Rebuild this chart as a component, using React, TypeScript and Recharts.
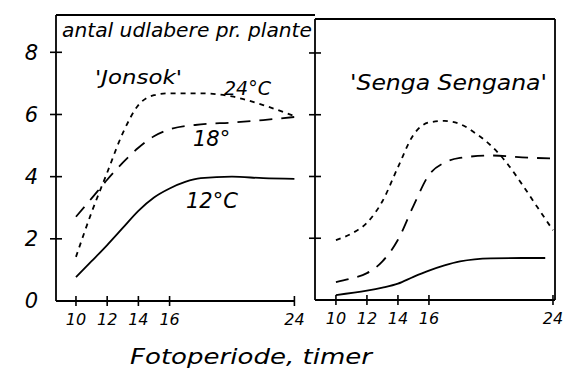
import React from "react";
import { LineChart, Line, XAxis, YAxis, ReferenceLine } from "recharts";

// Jonsok (left panel)
const jonsokHours24 = [10, 11, 12, 13, 14, 15, 16, 18, 20, 22, 24];
const jonsok24 = [1.42, 2.85, 4.13, 5.4, 6.3, 6.62, 6.68, 6.68, 6.58, 6.3, 5.95];
const jonsokHours18 = [10, 11, 12, 13, 14, 15, 16, 18, 20, 22, 24];
const jonsok18 = [2.71, 3.3, 3.9, 4.45, 4.93, 5.3, 5.52, 5.68, 5.74, 5.82, 5.92];
const jonsokHours12 = [10, 11, 12, 13, 14, 15, 16, 17, 18, 20, 22, 24];
const jonsok12 = [0.77, 1.28, 1.8, 2.35, 2.9, 3.33, 3.62, 3.83, 3.95, 4.0, 3.95, 3.93];

// Senga Sengana (right panel)
const sengaHours24 = [10, 11, 12, 13, 14, 15, 16, 17, 18, 19, 20, 21, 22, 23, 24];
const senga24 = [1.94, 2.15, 2.5, 3.2, 4.3, 5.35, 5.75, 5.8, 5.7, 5.4, 5.0, 4.45, 3.75, 3.0, 2.26];
const sengaHours18 = [10, 11, 12, 13, 14, 15, 16, 17, 18, 20, 22, 24];
const senga18 = [0.58, 0.7, 0.87, 1.25, 1.95, 3.05, 4.05, 4.45, 4.6, 4.68, 4.62, 4.58];
const sengaHours12 = [10, 12, 13, 14, 15, 16, 17, 18, 20, 22, 23.5];
const senga12 = [0.16, 0.3, 0.4, 0.53, 0.75, 0.95, 1.12, 1.25, 1.35, 1.36, 1.36];

const xTicks = [10, 12, 14, 16, 24];
const yTicks = [0, 2, 4, 6, 8];
const leftTempLabels = ["24°C", "18°", "12°C"];
const title = "antal udlabere pr. plante";
const cultivars = ["'Jonsok'", "'Senga Sengana'"];
const xTitle = "Fotoperiode, timer";

const toData = (hs: number[], vs: number[]) => hs.map((h, i) => ({ h, v: vs[i] }));

const FONT = "'DejaVu Sans', sans-serif";

const YTick = (props: any) => {
  const { x, y, payload, showLabel } = props;
  return (
    <g>
      {payload.value !== 0 && (
        <line x1={x - 6} x2={x + 6} y1={y} y2={y} stroke="#000" strokeWidth={1.6} />
      )}
      {showLabel && (
        <text x={x - 18} y={y} dy="0.35em" textAnchor="end" fontFamily={FONT} fontStyle="italic" fontSize={21} fill="#000">
          {payload.value}
        </text>
      )}
    </g>
  );
};

const XTick = (props: any) => {
  const { x, y, payload } = props;
  return (
    <g>
      <line x1={x} x2={x} y1={y - 5} y2={y + 5} stroke="#000" strokeWidth={1.6} />
      <text x={x} y={y + 18} dy="0.35em" textAnchor="middle" fontFamily={FONT} fontStyle="italic" fontSize={16} fill="#000">
        {payload.value}
      </text>
    </g>
  );
};

const LMIN = 8.72;
const LMAX = 25.32;
const LYMAX = 9.2;
const RMIN = 8.65;
const RMAX = 24.13;
const RYMAX = 9.1;

export default function App() {
  return (
    <div style={{ position: "absolute", left: 0, top: 0, width: 585, height: 373, background: "#fff" }}>
      <div style={{ position: "absolute", left: 0, top: 0 }}>
        <LineChart width={585} height={373} margin={{ top: 15, left: 0, right: 270, bottom: 32 }}>
          <XAxis type="number" dataKey="h" domain={[LMIN, LMAX]} ticks={xTicks} axisLine={false} tickLine={false}
            tickSize={0} tickMargin={0} height={40} tick={(p: any) => <XTick {...p} />} allowDataOverflow />
          <YAxis type="number" domain={[0, LYMAX]} ticks={yTicks} width={56} tickLine={false} tickSize={0} tickMargin={0}
            axisLine={{ stroke: "#000", strokeWidth: 1.8 }} tick={(p: any) => <YTick {...p} showLabel />} allowDataOverflow />
          <ReferenceLine segment={[{ x: LMIN, y: 0 }, { x: 24, y: 0 }]} stroke="#000" strokeWidth={1.8} ifOverflow="visible" />
          <ReferenceLine segment={[{ x: LMIN, y: LYMAX }, { x: LMAX, y: LYMAX }]} stroke="#000" strokeWidth={1.8} ifOverflow="visible" />
          <Line data={toData(jonsokHours24, jonsok24)} dataKey="v" type="monotone" stroke="#000" strokeWidth={1.8}
            strokeDasharray="5 5" dot={false} isAnimationActive={false} />
          <Line data={toData(jonsokHours18, jonsok18)} dataKey="v" type="monotone" stroke="#000" strokeWidth={1.8}
            strokeDasharray="13 9" dot={false} isAnimationActive={false} />
          <Line data={toData(jonsokHours12, jonsok12)} dataKey="v" type="monotone" stroke="#000" strokeWidth={1.8}
            dot={false} isAnimationActive={false} />
        </LineChart>
      </div>
      <div style={{ position: "absolute", left: 0, top: 0 }}>
        <LineChart width={585} height={373} margin={{ top: 19, left: 0, right: 0, bottom: 33 }}>
          <XAxis type="number" dataKey="h" domain={[RMIN, RMAX]} ticks={xTicks} axisLine={{ stroke: "#000", strokeWidth: 1.8 }}
            tickLine={false} tickSize={0} tickMargin={0} height={40} tick={(p: any) => <XTick {...p} />} allowDataOverflow />
          <YAxis yAxisId="l" type="number" domain={[0, RYMAX]} ticks={yTicks} width={315} tickLine={false} tickSize={0} tickMargin={0}
            axisLine={{ stroke: "#000", strokeWidth: 1.8 }} tick={(p: any) => <YTick {...p} />} allowDataOverflow />
          <YAxis yAxisId="r" orientation="right" type="number" domain={[0, RYMAX]} width={30} tick={false} tickLine={false}
            axisLine={{ stroke: "#000", strokeWidth: 1.8 }} />
          <ReferenceLine yAxisId="l" segment={[{ x: RMIN, y: RYMAX }, { x: RMAX, y: RYMAX }]} stroke="#000" strokeWidth={1.8} ifOverflow="visible" />
          <Line yAxisId="l" data={toData(sengaHours24, senga24)} dataKey="v" type="monotone" stroke="#000" strokeWidth={1.8}
            strokeDasharray="5 5" dot={false} isAnimationActive={false} />
          <Line yAxisId="l" data={toData(sengaHours18, senga18)} dataKey="v" type="monotone" stroke="#000" strokeWidth={1.8}
            strokeDasharray="13 9" dot={false} isAnimationActive={false} />
          <Line yAxisId="l" data={toData(sengaHours12, senga12)} dataKey="v" type="monotone" stroke="#000" strokeWidth={1.8}
            dot={false} isAnimationActive={false} />
        </LineChart>
      </div>
      <svg width={585} height={373} style={{ position: "absolute", left: 0, top: 0, pointerEvents: "none" }}>
        <g fontFamily={FONT} fontStyle="italic" fill="#000">
          <text x={62} y={37} fontSize={19} textLength={250} lengthAdjust="spacingAndGlyphs">{title}</text>
          <text x={95} y={84} fontSize={20} textLength={87} lengthAdjust="spacingAndGlyphs">{cultivars[0]}</text>
          <text x={224} y={95} fontSize={19}>{leftTempLabels[0]}</text>
          <text x={193} y={146} fontSize={21}>{leftTempLabels[1]}</text>
          <text x={186} y={208} fontSize={21}>{leftTempLabels[2]}</text>
          <text x={350} y={90} fontSize={21} textLength={197} lengthAdjust="spacingAndGlyphs">{cultivars[1]}</text>
          <text x={130} y={364} fontSize={22} textLength={242} lengthAdjust="spacingAndGlyphs">{xTitle}</text>
        </g>
      </svg>
    </div>
  );
}
